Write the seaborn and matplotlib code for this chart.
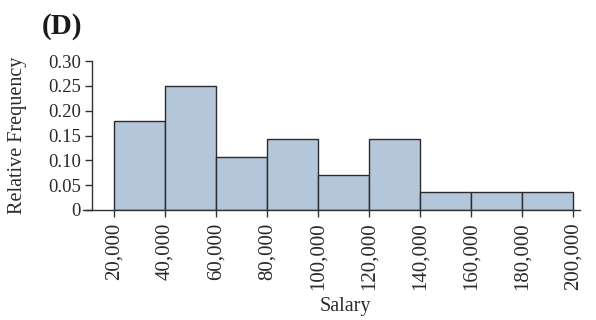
import numpy as np
import matplotlib
matplotlib.use("Agg")
import matplotlib.pyplot as plt
import seaborn as sns

# --- data ---
bin_edges = [20000, 40000, 60000, 80000, 100000, 120000, 140000, 160000, 180000, 200000]
rel_freq = [5/28, 7/28, 3/28, 4/28, 2/28, 4/28, 1/28, 1/28, 1/28]
y_ticks = [0, 0.05, 0.10, 0.15, 0.20, 0.25, 0.30]
y_tick_labels = ["0", "0.05", "0.10", "0.15", "0.20", "0.25", "0.30"]
x_tick_labels = [f"{v:,}" for v in bin_edges]

sns.set_theme(style="ticks")
plt.rcParams['font.family'] = ['Liberation Serif', 'DejaVu Serif']

mids = [(a + b) / 2 for a, b in zip(bin_edges[:-1], bin_edges[1:])]

fig = plt.figure(figsize=(5.96, 3.2), dpi=100)
ax = fig.add_axes([83 / 596, 110 / 320, 497 / 596, 149 / 320])

sns.histplot(x=mids, weights=rel_freq, bins=bin_edges, ax=ax,
             color="#b4c6da", edgecolor="#2b2b2b", linewidth=1.0, alpha=1.0)

ax.set_xlim(7843, 202745)
ax.set_ylim(0, 0.30)
ax.spines['top'].set_visible(False)
ax.spines['right'].set_visible(False)
ax.spines['left'].set_position(('data', 11400))
for s in ['left', 'bottom']:
    ax.spines[s].set_color("#333333")
    ax.spines[s].set_linewidth(1.0)

ax.set_yticks(y_ticks)
ax.set_yticklabels(y_tick_labels, fontsize=13.5)
ax.set_xticks(bin_edges)
ax.set_xticklabels(x_tick_labels, rotation=90, fontsize=15)
ax.tick_params(axis='both', direction='out', length=5, width=1.0, color="#333333", colors="#2a2a2a")
ax.tick_params(axis='y', pad=3)
ax.tick_params(axis='x', pad=4)

ax.set_xlabel("Salary", fontsize=14.5, color="#2a2a2a")
ax.set_ylabel("Relative Frequency", fontsize=14.5, color="#2a2a2a")
ax.xaxis.set_label_coords((345 - 83) / 497, -(307 - 210) / 149)
ax.yaxis.set_label_coords((18 - 83) / 497, (210 - 135) / 149)
ax.xaxis.label.set_va("center")
ax.yaxis.label.set_va("center")

fig.text(62 / 596, 1 - 27 / 320, "(D)", fontsize=21, fontweight="bold",
         ha="center", va="center", color="#1a1a1a")

fig.savefig("out.png", dpi=100)
